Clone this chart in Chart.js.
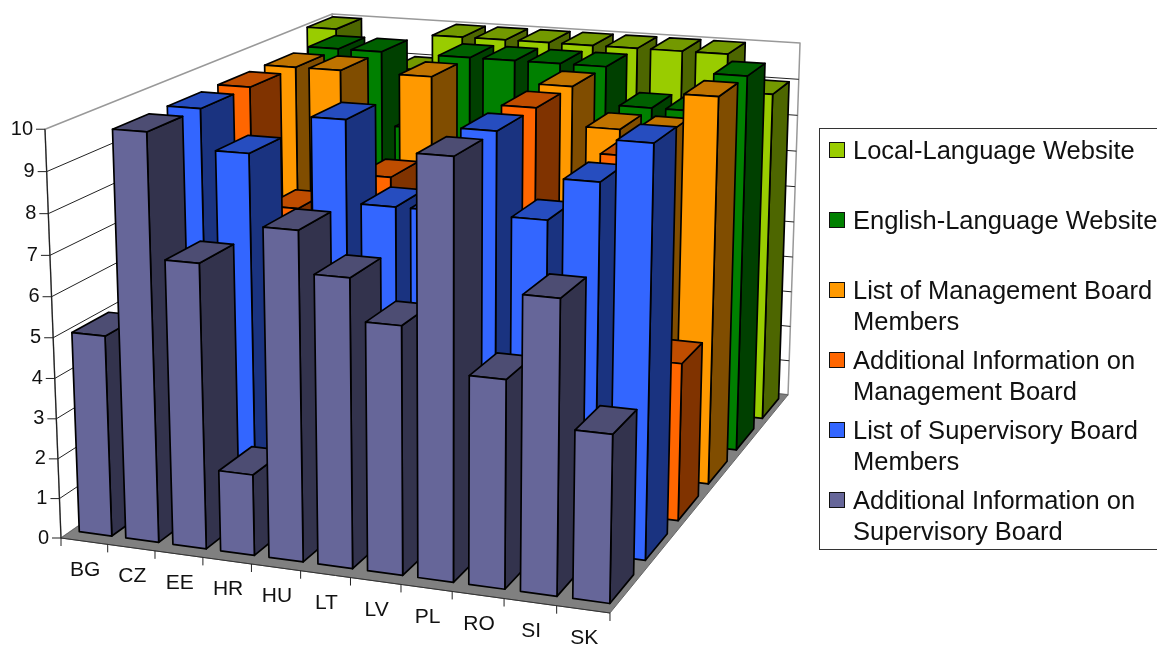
<!DOCTYPE html>
<html>
<head>
<meta charset="utf-8">
<title>Website disclosure by country</title>
<script src="https://cdn.jsdelivr.net/npm/chart.js@4"></script>
<style>
  html, body { margin: 0; padding: 0; background: #fff; overflow: hidden; }
  #wrap { position: relative; width: 1157px; height: 646px; overflow: hidden; font-family: "Liberation Sans", Arial, sans-serif; }
  #legend { position: absolute; left: 819px; top: 128px; width: 400px; height: 420px; border: 1px solid #333; box-sizing: content-box; }
  .item { position: absolute; left: 9px; color: #111; font-size: 25.5px; line-height: 31px; white-space: nowrap; }
  .item i { position: absolute; left: 0; top: 7px; width: 14px; height: 14px; border: 1px solid #111; }
  .item span { display: block; margin-left: 24px; }
</style>
</head>
<body>
<div id="wrap">
  <canvas id="chart" width="1157" height="646"></canvas>
  <div id="legend"></div>
</div>
<script>
// Data
const categories = ['BG', 'CZ', 'EE', 'HR', 'HU', 'LT', 'LV', 'PL', 'RO', 'SI', 'SK'];
const seriesLines = [
    ['Local-Language Website'],
    ['English-Language Website'],
    ['List of Management Board', 'Members'],
    ['Additional Information on', 'Management Board'],
    ['List of Supervisory Board', 'Members'],
    ['Additional Information on', 'Supervisory Board']
];
const localWebsite      = [10, 9, 9, 10, 10, 10, 10, 10, 10, 10, 9];
const englishWebsite    = [8, 10, 10, 8, 10, 10, 10, 10, 9, 9, 10];
const managementList    = [7, 10, 10, 7, 10, 8, 8, 10, 9, 9, 10];
const managementInfo    = [8, 10, 7, 8, 8, 5, 7, 10, 6, 9, 4];
const supervisoryList   = [8, 10, 9, 6, 10, 8, 8, 10, 8, 9, 10];
const supervisoryInfo   = [5, 10, 7, 2, 8, 7, 6, 10, 5, 7, 4];

const seriesValues = [localWebsite, englishWebsite, managementList, managementInfo, supervisoryList, supervisoryInfo];
const frontColors = ['#99cc00', '#008000', '#ff9900', '#ff6600', '#3366ff', '#666699'];
const sideColors  = ['#4d6600', '#004000', '#804d00', '#803300', '#1a3380', '#33334d'];
const topColors   = ['#739900', '#006000', '#bf7300', '#bf4d00', '#264dbf', '#4d4d73'];

// Perspective camera: vanishing points of the three box directions plus the near floor corner
const origin = [61, 538];
const vanishX = [-7188, -452], weightX = -0.0704;
const vanishD = [1472, -443], weightD = 0.242;
const vanishY = [447, 10400], weightY = -0.0398;

function project(u, d, h) {
    const den = 1 + u * weightX + d * weightD + h * weightY;
    return [
        (origin[0] + u * weightX * vanishX[0] + d * weightD * vanishD[0] + h * weightY * vanishY[0]) / den,
        (origin[1] + u * weightX * vanishX[1] + d * weightD * vanishD[1] + h * weightY * vanishY[1]) / den
    ];
}

function fraction(scale, value) {
    return (scale.getPixelForValue(value) - scale.left) / scale.width;
}

function heightOf(yScale, value) {
    return (yScale.bottom - yScale.getPixelForValue(value)) / yScale.height;
}

function face(ctx, points, fill, stroke, lineWidth) {
    ctx.beginPath();
    points.forEach((p, i) => i ? ctx.lineTo(p[0], p[1]) : ctx.moveTo(p[0], p[1]));
    ctx.closePath();
    if (fill) {
        ctx.fillStyle = fill;
        ctx.fill();
    }
    ctx.strokeStyle = stroke;
    ctx.lineWidth = lineWidth;
    ctx.lineJoin = 'round';
    ctx.stroke();
}

function line(ctx, a, b, color, lineWidth) {
    ctx.beginPath();
    ctx.moveTo(a[0], a[1]);
    ctx.lineTo(b[0], b[1]);
    ctx.strokeStyle = color;
    ctx.lineWidth = lineWidth;
    ctx.stroke();
}

const WIDTH_FILL = 0.70, DEPTH_FILL = 0.66;
const WIDTH_SHIFT = 0.0015, DEPTH_SHIFT = 0.003;
const BAR_EDGE = 1.7;

// Bar controller that paints each bar as a prism
class Bar3dController extends Chart.BarController {
    draw() {
        const ctx = this.chart.ctx;
        const { x, y, depth } = this.chart.scales;
        const row = this.index;
        const values = this.getDataset().data;
        const halfU = WIDTH_FILL / categories.length / 2;
        const halfD = DEPTH_FILL / seriesValues.length / 2;
        const d = fraction(depth, row) + DEPTH_SHIFT;
        values.forEach((value, i) => {
            const u = fraction(x, i) + WIDTH_SHIFT;
            const h = heightOf(y, value);
            const u0 = u - halfU, u1 = u + halfU, d0 = d - halfD, d1 = d + halfD;
            face(ctx, [project(u1, d0, 0), project(u1, d1, 0), project(u1, d1, h), project(u1, d0, h)], sideColors[row], '#000', BAR_EDGE);
            face(ctx, [project(u0, d0, h), project(u1, d0, h), project(u1, d1, h), project(u0, d1, h)], topColors[row], '#000', BAR_EDGE);
            face(ctx, [project(u0, d0, 0), project(u1, d0, 0), project(u1, d0, h), project(u0, d0, h)], frontColors[row], '#000', BAR_EDGE);
        });
    }
}
Bar3dController.id = 'bar3d';
Bar3dController.defaults = Chart.BarController.defaults;
Chart.register(Bar3dController);

// Walls, floor, grid lines and axis labels
const boxPlugin = {
    id: 'box3d',
    beforeDatasetsDraw(chart) {
        const ctx = chart.ctx;
        const { x, y } = chart.scales;
        ctx.save();
        face(ctx, [project(0, 0, 0), project(0, 1, 0), project(0, 1, 1), project(0, 0, 1)], '#fff', '#999', 1.5);
        face(ctx, [project(0, 1, 0), project(1, 1, 0), project(1, 1, 1), project(0, 1, 1)], '#fff', '#999', 1.5);

        ctx.font = '20px "Liberation Sans", Arial, sans-serif';
        ctx.textAlign = 'right';
        ctx.textBaseline = 'middle';
        y.ticks.forEach(tick => {
            const h = heightOf(y, tick.value);
            const a = project(0, 0, h), b = project(0, 1, h), c = project(1, 1, h);
            if (tick.value > 0 && tick.value < 10) {
                line(ctx, a, b, '#222', 1);
                line(ctx, b, c, '#222', 1);
            }
            line(ctx, [a[0] - 9, a[1]], a, '#222', 1);
            ctx.fillStyle = '#111';
            ctx.fillText(String(tick.value), a[0] - 12, a[1]);
        });

        face(ctx, [project(0, 0, 0), project(1, 0, 0), project(1, 1, 0), project(0, 1, 0)], '#808080', '#666', 1);
        line(ctx, project(0, 0, 0), project(0, 0, 1), '#222', 1.2);
        line(ctx, project(0, 0, 0), project(1, 0, 0), '#333', 1);

        ctx.font = '21px "Liberation Sans", Arial, sans-serif';
        ctx.textAlign = 'center';
        const cell = 1 / categories.length;
        categories.forEach((name, i) => {
            const mid = project(fraction(x, i), 0, 0);
            const tick = project(fraction(x, i) - cell / 2, 0, 0);
            line(ctx, tick, [tick[0], tick[1] + 8], '#222', 1);
            ctx.fillStyle = '#111';
            ctx.fillText(name, mid[0] + 1, mid[1] + 29);
        });
        const end = project(1, 0, 0);
        line(ctx, end, [end[0], end[1] + 8], '#222', 1);
        ctx.restore();
    }
};

const datasets = seriesValues.map((values, i) => ({
    label: seriesLines[i].join(' '),
    data: values,
    backgroundColor: frontColors[i],
    order: seriesValues.length - i,
    clip: false
}));

new Chart(document.getElementById('chart').getContext('2d'), {
    type: 'bar3d',
    data: { labels: categories, datasets: datasets },
    options: {
        responsive: false,
        animation: false,
        events: [],
        plugins: { legend: { display: false }, tooltip: { enabled: false } },
        scales: {
            x: { type: 'category', offset: true, display: false },
            y: { type: 'linear', min: 0, max: 10, display: false, ticks: { stepSize: 1 } },
            depth: { type: 'category', axis: 'x', labels: seriesLines.map(l => l.join(' ')), offset: true, reverse: true, display: false }
        }
    },
    plugins: [boxPlugin]
});

// Legend list
const legend = document.getElementById('legend');
seriesLines.forEach((lines, i) => {
    const item = document.createElement('div');
    item.className = 'item';
    item.style.top = (6 + i * 70) + 'px';
    const swatch = document.createElement('i');
    swatch.style.background = frontColors[i];
    item.appendChild(swatch);
    lines.forEach(text => {
        const span = document.createElement('span');
        span.textContent = text;
        item.appendChild(span);
    });
    legend.appendChild(item);
});
</script>
</body>
</html>
